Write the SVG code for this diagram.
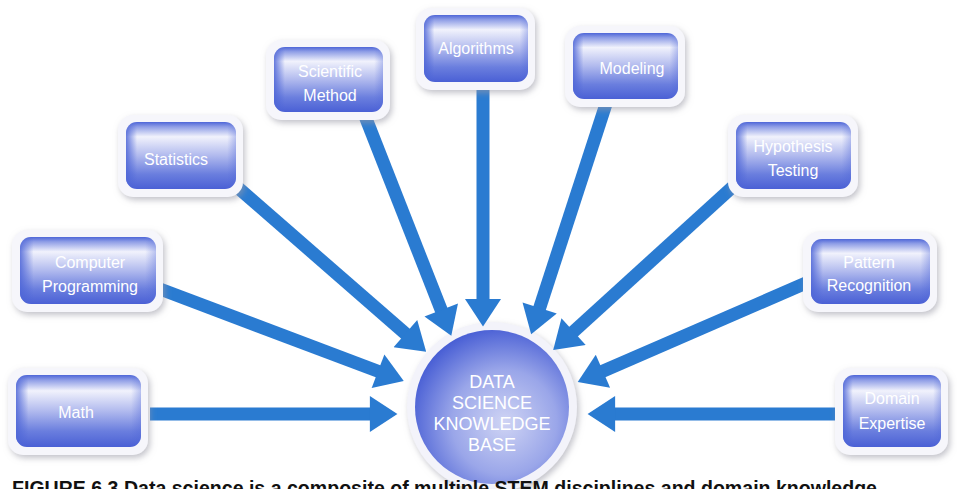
<svg xmlns="http://www.w3.org/2000/svg" width="957" height="489" viewBox="0 0 957 489">
<defs>
<linearGradient id="face" x1="0" y1="0" x2="0" y2="1">
<stop offset="0" stop-color="#4e66d8"/>
<stop offset="0.07" stop-color="#8e9de6"/>
<stop offset="0.22" stop-color="#f1f2fc"/>
<stop offset="0.5" stop-color="#b1baee"/>
<stop offset="0.78" stop-color="#6a7ede"/>
<stop offset="1" stop-color="#4a60d5"/>
</linearGradient>
<linearGradient id="side" x1="0" y1="0" x2="1" y2="0">
<stop offset="0" stop-color="#4d65d7" stop-opacity="0.85"/>
<stop offset="0.1" stop-color="#4d65d7" stop-opacity="0"/>
<stop offset="0.92" stop-color="#4d65d7" stop-opacity="0"/>
<stop offset="1" stop-color="#4d65d7" stop-opacity="0.35"/>
</linearGradient>
<radialGradient id="disk" cx="0.58" cy="0.6" r="0.62">
<stop offset="0" stop-color="#cfd4f4"/>
<stop offset="0.55" stop-color="#9aa6e9"/>
<stop offset="1" stop-color="#4a60d5"/>
</radialGradient>
<filter id="shadow" x="-20%" y="-20%" width="140%" height="150%">
<feGaussianBlur in="SourceAlpha" stdDeviation="3"/>
<feOffset dx="2" dy="3" result="b"/>
<feFlood flood-color="#9a9aa6" flood-opacity="0.6"/>
<feComposite in2="b" operator="in"/>
<feMerge><feMergeNode/><feMergeNode in="SourceGraphic"/></feMerge>
</filter>
<marker id="head" markerUnits="userSpaceOnUse" markerWidth="30" markerHeight="36" viewBox="0 0 26 34" refX="2" refY="17" orient="auto">
<path d="M0,0 L26,17 L0,34 Z" fill="#2a7bd1"/>
</marker>
</defs>
<style>
.rim{fill:#f6f6fb;filter:url(#shadow)}
.face{fill:url(#face)}
.side{fill:url(#side)}
.lbl{font-family:"Liberation Sans",Arial,sans-serif;font-size:16px;fill:#ffffff;text-anchor:middle}
.big{font-family:"Liberation Sans",Arial,sans-serif;font-size:18px;fill:#ffffff;text-anchor:middle}
.arr{stroke:#2a7bd1;stroke-width:13;fill:none;marker-end:url(#head)}
.cap{font-family:"Liberation Sans",Arial,sans-serif;font-size:20px;font-weight:bold;fill:#111111}
</style>
<rect width="957" height="489" fill="#ffffff"/>

<g id="hub">
<circle cx="492" cy="407" r="85" fill="#f3f3fa" filter="url(#shadow)"/>
<circle cx="492" cy="407" r="77" fill="url(#disk)"/>
<text class="big" x="492" y="388">DATA</text>
<text class="big" x="492" y="409">SCIENCE</text>
<text class="big" x="492" y="430">KNOWLEDGE</text>
<text class="big" x="492" y="451">BASE</text>
</g>

<g id="connectors">
<line class="arr" x1="150" y1="414" x2="372" y2="414"/>
<line class="arr" x1="835" y1="414" x2="613" y2="414"/>
<line class="arr" x1="160" y1="289" x2="380" y2="372"/>
<line class="arr" x1="236" y1="186" x2="407" y2="335"/>
<line class="arr" x1="365" y1="116" x2="442" y2="312"/>
<line class="arr" x1="483" y1="88" x2="483" y2="301"/>
<line class="arr" x1="606" y1="104" x2="539" y2="310"/>
<line class="arr" x1="738" y1="182" x2="572" y2="333"/>
<line class="arr" x1="806" y1="283" x2="601" y2="372"/>
</g>

<g id="math">
<rect class="rim" x="8" y="368" width="140" height="87" rx="15"/>
<rect class="face" x="16" y="375" width="125" height="72" rx="11"/>
<rect class="side" x="16" y="375" width="125" height="72" rx="11"/>
<text class="lbl" x="76" y="418">Math</text>
</g>

<g id="programming">
<rect class="rim" x="12" y="230" width="151" height="82" rx="15"/>
<rect class="face" x="20" y="237" width="136" height="67" rx="11"/>
<rect class="side" x="20" y="237" width="136" height="67" rx="11"/>
<text class="lbl" x="90" y="268">Computer</text>
<text class="lbl" x="90" y="292">Programming</text>
</g>

<g id="statistics">
<rect class="rim" x="118" y="115" width="125" height="82" rx="15"/>
<rect class="face" x="126" y="122" width="110" height="67" rx="11"/>
<rect class="side" x="126" y="122" width="110" height="67" rx="11"/>
<text class="lbl" x="176" y="165">Statistics</text>
</g>

<g id="scientific">
<rect class="rim" x="266" y="40" width="124" height="80" rx="15"/>
<rect class="face" x="274" y="47" width="109" height="65" rx="11"/>
<rect class="side" x="274" y="47" width="109" height="65" rx="11"/>
<text class="lbl" x="330" y="77">Scientific</text>
<text class="lbl" x="330" y="101">Method</text>
</g>

<g id="algorithms">
<rect class="rim" x="416" y="8" width="119" height="82" rx="15"/>
<rect class="face" x="424" y="15" width="104" height="67" rx="11"/>
<rect class="side" x="424" y="15" width="104" height="67" rx="11"/>
<text class="lbl" x="476" y="54">Algorithms</text>
</g>

<g id="modeling">
<rect class="rim" x="565" y="26" width="120" height="81" rx="15"/>
<rect class="face" x="573" y="33" width="105" height="66" rx="11"/>
<rect class="side" x="573" y="33" width="105" height="66" rx="11"/>
<text class="lbl" x="632" y="74">Modeling</text>
</g>

<g id="hypothesis">
<rect class="rim" x="728" y="115" width="130" height="82" rx="15"/>
<rect class="face" x="736" y="122" width="115" height="67" rx="11"/>
<rect class="side" x="736" y="122" width="115" height="67" rx="11"/>
<text class="lbl" x="793" y="152">Hypothesis</text>
<text class="lbl" x="793" y="176">Testing</text>
</g>

<g id="pattern">
<rect class="rim" x="803" y="232" width="134" height="80" rx="15"/>
<rect class="face" x="811" y="239" width="119" height="65" rx="11"/>
<rect class="side" x="811" y="239" width="119" height="65" rx="11"/>
<text class="lbl" x="869" y="268">Pattern</text>
<text class="lbl" x="869" y="291">Recognition</text>
</g>

<g id="domain">
<rect class="rim" x="835" y="368" width="113" height="87" rx="15"/>
<rect class="face" x="843" y="375" width="98" height="72" rx="11"/>
<rect class="side" x="843" y="375" width="98" height="72" rx="11"/>
<text class="lbl" x="892" y="404">Domain</text>
<text class="lbl" x="892" y="429">Expertise</text>
</g>

<text class="cap" x="12" y="495" textLength="865" lengthAdjust="spacingAndGlyphs">FIGURE 6.3 Data science is a composite of multiple STEM disciplines and domain knowledge</text>
</svg>
